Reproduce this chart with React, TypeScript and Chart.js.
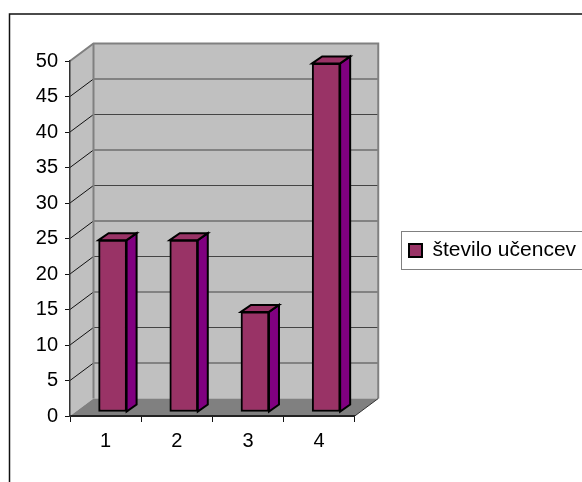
import React, { useEffect, useRef } from "react";
import { Chart, registerables } from "chart.js";

Chart.register(...registerables);

const categories = ["1", "2", "3", "4"];
const seriesLabel = "število učencev";
const seriesValues = [24.2, 24.2, 14.1, 49.1];
const FONT = "'Liberation Sans', Arial, sans-serif";

const WALL_DX = 23.5;
const WALL_DY = -17.5;
const BAR_SHIFT_X = 7;
const BAR_SHIFT_Y = -4;
const BAR_DX = 10;
const BAR_DY = -7;

const poly = (ctx: CanvasRenderingContext2D, pts: number[][], fill: string | null, stroke: string | null, lw = 1) => {
  ctx.beginPath();
  pts.forEach((p, i) => (i ? ctx.lineTo(p[0], p[1]) : ctx.moveTo(p[0], p[1])));
  ctx.closePath();
  if (fill) { ctx.fillStyle = fill; ctx.fill(); }
  if (stroke) { ctx.strokeStyle = stroke; ctx.lineWidth = lw; ctx.lineJoin = "miter"; ctx.stroke(); }
};

const scenePlugin = {
  id: "scene",
  afterLayout(chart: any) {
    const l = chart.legend;
    if (l) { l.left = 401; l.right = 582; l.top = 231; l.bottom = 270; }
  },
  beforeDraw(chart: any) {
    const ctx = chart.ctx as CanvasRenderingContext2D;
    const { left, right, top, bottom } = chart.chartArea;
    ctx.save();
    ctx.fillStyle = "#fff";
    ctx.fillRect(0, 0, chart.width, chart.height);
    // outer frame
    ctx.strokeStyle = "#111";
    ctx.lineWidth = 1.5;
    ctx.beginPath();
    ctx.moveTo(9.5, 482); ctx.lineTo(9.5, 14); ctx.lineTo(582, 14);
    ctx.stroke();
    // left wall
    poly(ctx, [[left, top], [left + WALL_DX, top + WALL_DY], [left + WALL_DX, bottom + WALL_DY], [left, bottom]], "#c0c0c0", null);
    // back wall
    poly(ctx, [[left + WALL_DX, top + WALL_DY], [right + WALL_DX, top + WALL_DY], [right + WALL_DX, bottom + WALL_DY], [left + WALL_DX, bottom + WALL_DY]], "#c0c0c0", null);
    // floor
    poly(ctx, [[left, bottom], [left + WALL_DX, bottom + WALL_DY], [right + WALL_DX, bottom + WALL_DY], [right, bottom]], "#808080", null);
    // gridlines
    const y = chart.scales.y;
    y.ticks.forEach((t: any) => {
      if (t.value === 0) return;
      const py = y.getPixelForValue(t.value);
      if (t.value < 50) {
        ctx.strokeStyle = "#444";
        ctx.lineWidth = 1.2;
        ctx.beginPath();
        ctx.moveTo(left + WALL_DX, py + WALL_DY);
        ctx.lineTo(right + WALL_DX, py + WALL_DY);
        ctx.stroke();
        ctx.strokeStyle = "#111";
        ctx.lineWidth = 1;
        ctx.beginPath();
        ctx.moveTo(left, py);
        ctx.lineTo(left + WALL_DX, py + WALL_DY);
        ctx.stroke();
      }
    });
    // wall borders
    ctx.strokeStyle = "#808080";
    ctx.lineWidth = 2;
    ctx.beginPath();
    ctx.moveTo(left, top);
    ctx.lineTo(left + WALL_DX, top + WALL_DY);
    ctx.lineTo(right + WALL_DX, top + WALL_DY);
    ctx.lineTo(right + WALL_DX, bottom + WALL_DY);
    ctx.stroke();
    ctx.beginPath();
    ctx.moveTo(left + WALL_DX, top + WALL_DY);
    ctx.lineTo(left + WALL_DX, bottom + WALL_DY);
    ctx.stroke();
    ctx.lineWidth = 1;
    ctx.strokeStyle = "#333";
    ctx.beginPath();
    ctx.moveTo(right, bottom);
    ctx.lineTo(right + WALL_DX, bottom + WALL_DY);
    ctx.stroke();
    // legend frame
    ctx.strokeStyle = "#808080";
    ctx.lineWidth = 1;
    ctx.strokeRect(401.5, 231.5, 190, 38);
    ctx.restore();
  },
  beforeDatasetDraw(chart: any, args: any) {
    const ctx = chart.ctx as CanvasRenderingContext2D;
    ctx.save();
    ctx.translate(BAR_SHIFT_X, BAR_SHIFT_Y);
    args.meta.data.forEach((bar: any) => {
      const x2 = bar.x + bar.width / 2;
      const x1 = bar.x - bar.width / 2;
      poly(ctx, [[x2, bar.y], [x2 + BAR_DX, bar.y + BAR_DY], [x2 + BAR_DX, bar.base + BAR_DY], [x2, bar.base]], "#800080", "#000", 2);
      poly(ctx, [[x1, bar.y], [x1 + BAR_DX, bar.y + BAR_DY], [x2 + BAR_DX, bar.y + BAR_DY], [x2, bar.y]], "#993366", "#000", 2);
    });
  },
  afterDatasetDraw(chart: any) {
    chart.ctx.restore();
  },
};

export default function App() {
  const ref = useRef<HTMLCanvasElement>(null);
  useEffect(() => {
    const chart = new Chart(ref.current!, {
      type: "bar",
      data: {
        labels: categories,
        datasets: [
          {
            label: seriesLabel,
            data: seriesValues,
            backgroundColor: "#993366",
            borderColor: "#000",
            borderWidth: 2,
            borderSkipped: false,
            barThickness: 28,
            clip: false as any,
          },
        ],
      },
      options: {
        animation: false,
        responsive: false,
        layout: { padding: { top: 61, right: 109, bottom: 0, left: 0 } },
        plugins: {
          tooltip: { enabled: false },
          legend: {
            position: "right",
            labels: {
              color: "#000",
              boxWidth: 13,
              boxHeight: 13,
              padding: 8,
              font: { family: FONT, size: 21 },
            },
          },
        },
        scales: {
          x: {
            afterFit: (s: any) => { s.height = 66; },
            grid: { drawOnChartArea: false, drawTicks: true, tickLength: 6, color: "#111", offset: true },
            border: { color: "#222", width: 2 },
            ticks: { color: "#000", padding: 7, maxRotation: 0, font: { family: FONT, size: 20 } },
          },
          y: {
            min: 0,
            max: 50,
            afterFit: (s: any) => { s.width = 70; },
            grid: { drawOnChartArea: false, drawTicks: true, tickLength: 5, color: "#111" },
            border: { color: "#333", width: 1.5 },
            ticks: { stepSize: 5, color: "#000", padding: 7, font: { family: FONT, size: 20 } },
          },
        },
      },
      plugins: [scenePlugin],
    } as any);
    return () => chart.destroy();
  }, []);
  return (
    <canvas
      ref={ref}
      width={582}
      height={482}
      style={{ position: "absolute", left: 0, top: 0, display: "block" }}
    />
  );
}
